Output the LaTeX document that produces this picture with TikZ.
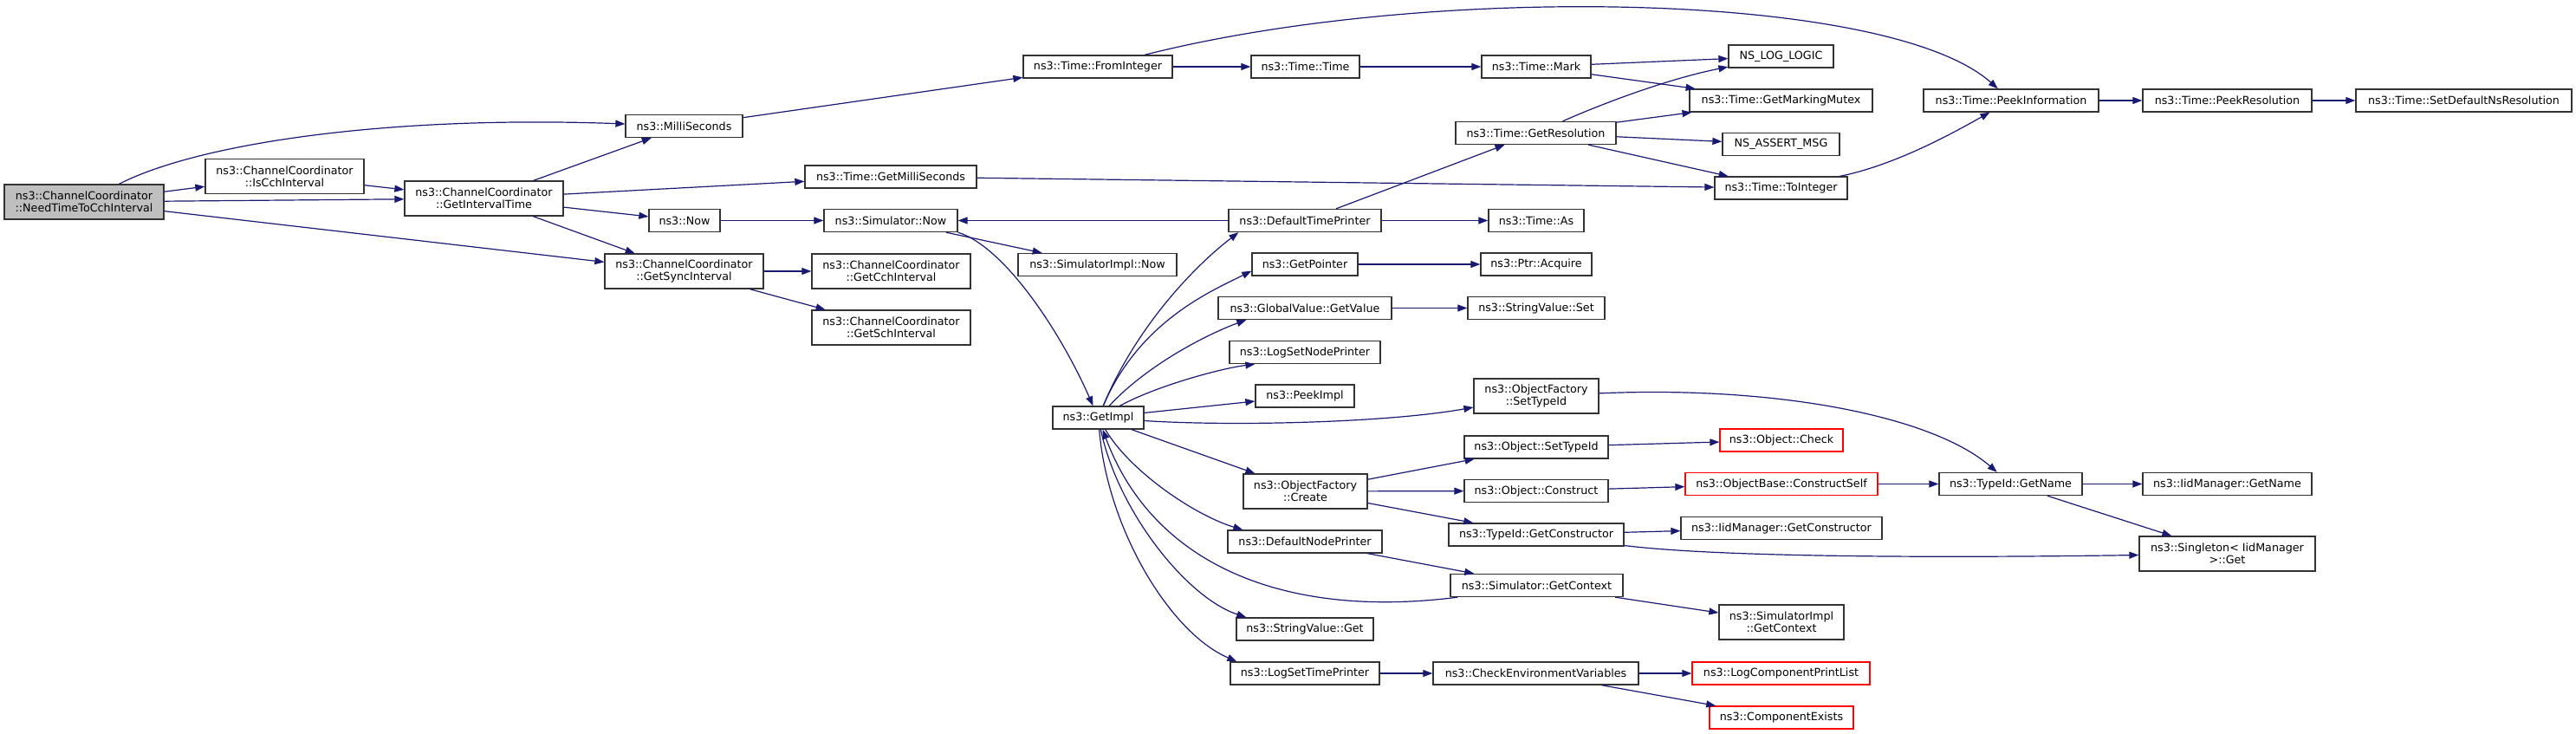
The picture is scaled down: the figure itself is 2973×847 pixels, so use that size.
\documentclass[tikz,border=0pt]{standalone}
\usepackage{fontspec}
\setmainfont{DejaVu Sans}
\usetikzlibrary{arrows.meta}
\definecolor{edgeblue}{HTML}{191970}
\definecolor{callgray}{HTML}{BFBFBF}
\definecolor{boxline}{HTML}{333333}
\begin{document}
\begin{tikzpicture}[x=1bp, y=-1bp, >={Triangle[length=11bp,width=8bp]},
  every node/.style={font=\fontsize{12.7bp}{14.3bp}\selectfont},
  fn/.style={draw=boxline,line width=1.3bp,fill=white,inner sep=0pt,minimum height=26bp,align=center},
  fn2/.style={fn,minimum height=40bp},
  hidden/.style={draw=red},
  call/.style={->,draw=edgeblue,line width=1.2bp}]
\useasboundingbox (0,0) rectangle (2973,847);
% caller and its direct callees
\node[fn2,fill=callgray,minimum width=184bp] (need) at (97,233) {ns3::ChannelCoordinator\\::NeedTimeToCchInterval};
\node[fn2,minimum width=183bp] (iscch) at (328.5,203.5) {ns3::ChannelCoordinator\\::IsCchInterval};
\node[fn2,minimum width=183bp] (getint) at (558.5,229) {ns3::ChannelCoordinator\\::GetIntervalTime};
\node[fn,minimum width=135bp] (milli) at (789.5,145.5) {ns3::MilliSeconds};
\node[fn,minimum width=82bp] (now) at (790,254.5) {ns3::Now};
\node[fn2,minimum width=183bp] (getsync) at (789.5,313) {ns3::ChannelCoordinator\\::GetSyncInterval};
\node[fn,minimum width=198bp] (getmilli) at (1028,204) {ns3::Time::GetMilliSeconds};
\node[fn,minimum width=154bp] (simnow) at (1028,254.5) {ns3::Simulator::Now};
\node[fn2,minimum width=183bp] (getcch) at (1028.5,313) {ns3::ChannelCoordinator\\::GetCchInterval};
\node[fn2,minimum width=183bp] (getsch) at (1028.5,378) {ns3::ChannelCoordinator\\::GetSchInterval};
% time
\node[fn,minimum width=172bp] (fromint) at (1267,77) {ns3::Time::FromInteger};
\node[fn,minimum width=183bp] (simimplnow) at (1266.5,305.5) {ns3::SimulatorImpl::Now};
\node[fn,minimum width=105bp] (getimpl) at (1267.5,482) {ns3::GetImpl};
\node[fn,minimum width=125bp] (ttime) at (1506.5,77) {ns3::Time::Time};
\node[fn,minimum width=126bp] (mark) at (1773,77) {ns3::Time::Mark};
\node[fn,minimum width=185bp] (getres) at (1772.5,153.5) {ns3::Time::GetResolution};
\node[fn,minimum width=121bp] (loglogic) at (2055.5,65) {NS\_LOG\_LOGIC};
\node[fn,minimum width=211bp] (mutex) at (2055.5,116) {ns3::Time::GetMarkingMutex};
\node[fn,minimum width=135bp] (assert) at (2055.5,166.5) {NS\_ASSERT\_MSG};
\node[fn,minimum width=153bp] (toint) at (2055.5,217) {ns3::Time::ToInteger};
\node[fn,minimum width=202bp] (peekinfo) at (2321,116) {ns3::Time::PeekInformation};
\node[fn,minimum width=195bp] (peekres) at (2570.5,116) {ns3::Time::PeekResolution};
\node[fn,minimum width=249bp] (setdef) at (2843.5,116) {ns3::Time::SetDefaultNsResolution};
% callees of GetImpl
\node[fn,minimum width=176bp] (deftime) at (1506,254.5) {ns3::DefaultTimePrinter};
\node[fn,minimum width=110bp] (timeas) at (1773,254.5) {ns3::Time::As};
\node[fn,minimum width=122bp] (getptr) at (1506,305) {ns3::GetPointer};
\node[fn,minimum width=128bp] (acquire) at (1773,305) {ns3::Ptr::Acquire};
\node[fn,minimum width=200bp] (getvalue) at (1506,355.5) {ns3::GlobalValue::GetValue};
\node[fn,minimum width=158bp] (strset) at (1773,355.5) {ns3::StringValue::Set};
\node[fn,minimum width=174bp] (lognode) at (1506,406.5) {ns3::LogSetNodePrinter};
\node[fn,minimum width=114bp] (peekimpl) at (1506,457) {ns3::PeekImpl};
\node[fn2,minimum width=144bp] (ofsettype) at (1773,457) {ns3::ObjectFactory\\::SetTypeId};
\node[fn2,minimum width=143bp] (ofcreate) at (1506.5,567) {ns3::ObjectFactory\\::Create};
\node[fn,minimum width=166bp] (objsettype) at (1773,516) {ns3::Object::SetTypeId};
\node[fn,minimum width=166bp] (objconstruct) at (1773,566.5) {ns3::Object::Construct};
\node[fn,minimum width=202bp] (tidctor) at (1773,617) {ns3::TypeId::GetConstructor};
\node[fn,minimum width=178bp] (defnode) at (1506,625) {ns3::DefaultNodePrinter};
\node[fn,minimum width=199bp] (simctx) at (1773.5,675.5) {ns3::Simulator::GetContext};
\node[fn,minimum width=158bp] (strget) at (1506,726) {ns3::StringValue::Get};
\node[fn,minimum width=172bp] (logtime) at (1506,777) {ns3::LogSetTimePrinter};
\node[fn,minimum width=237bp] (checkenv) at (1772.5,777) {ns3::CheckEnvironmentVariables};
% deepest calls
\node[fn,hidden,minimum width=142bp] (objcheck) at (2056,508) {ns3::Object::Check};
\node[fn,hidden,minimum width=222bp] (constructself) at (2056,558.5) {ns3::ObjectBase::ConstructSelf};
\node[fn,minimum width=232bp] (iidctor) at (2056,609.5) {ns3::IidManager::GetConstructor};
\node[fn2,minimum width=144bp] (simimplctx) at (2056,718) {ns3::SimulatorImpl\\::GetContext};
\node[fn,hidden,minimum width=205bp] (logprint) at (2055.5,777) {ns3::LogComponentPrintList};
\node[fn,hidden,minimum width=166bp] (compexists) at (2056,828) {ns3::ComponentExists};
\node[fn,minimum width=165bp] (tidname) at (2320.5,558.5) {ns3::TypeId::GetName};
\node[fn,minimum width=195bp] (iidname) at (2570.5,558.5) {ns3::IidManager::GetName};
\node[fn2,minimum width=203bp] (singleton) at (2570.5,639) {ns3::Singleton< IidManager\\>::Get};
% calls
\draw[call] (need) .. controls (230,165) and (450,133) .. (milli);
\draw[call] (need) -- (iscch);
\draw[call] (need) -- (getint);
\draw[call] (need) -- (getsync);
\draw[call] (iscch) -- (getint);
\draw[call] (getint) -- (milli);
\draw[call] (getint) -- (getmilli);
\draw[call] (getint) -- (now);
\draw[call] (getint) -- (getsync);
\draw[call] (milli) -- (fromint);
\draw[call] (fromint) -- (ttime);
\draw[call] (fromint) .. controls (1650,-20) and (2180,-10) .. (peekinfo);
\draw[call] (ttime) -- (mark);
\draw[call] (mark) -- (loglogic);
\draw[call] (mark) -- (mutex);
\draw[call] (getres) .. controls (1860,115) and (1930,90) .. (loglogic);
\draw[call] (getres) -- (mutex);
\draw[call] (getres) -- (assert);
\draw[call] (getres) -- (toint);
\draw[call] (toint) .. controls (2190,190) and (2260,150) .. (peekinfo);
\draw[call] (peekinfo) -- (peekres);
\draw[call] (peekres) -- (setdef);
\draw[call] (getmilli) -- (toint);
\draw[call] (now) -- (simnow);
\draw[call] (simnow) -- (simimplnow);
\draw[call] (simnow.south east) .. controls (1160,285) and (1225,385) .. (getimpl);
\draw[call] (getsync) -- (getcch);
\draw[call] (getsync) -- (getsch);
\draw[call] (deftime) -- (simnow);
\draw[call] (deftime) -- (getres);
\draw[call] (deftime) -- (timeas);
\draw[call] (getptr) -- (acquire);
\draw[call] (getvalue) -- (strset);
\draw[call] (getimpl) .. controls (1310,380) and (1375,310) .. ([xshift=12bp]deftime.south west);
\draw[call] (getimpl) .. controls (1315,370) and (1400,335) .. ([yshift=6bp]getptr.south west);
\draw[call] (getimpl) .. controls (1325,420) and (1395,385) .. ([xshift=33bp]getvalue.south west);
\draw[call] (getimpl) .. controls (1335,445) and (1410,425) .. ([xshift=30bp]lognode.south west);
\draw[call] (getimpl) -- (peekimpl);
\draw[call] (getimpl) .. controls (1420,492) and (1600,488) .. (ofsettype);
\draw[call] (getimpl) -- (ofcreate);
\draw[call] (getimpl) .. controls (1305,545) and (1380,595) .. ([xshift=18bp]defnode.north west);
\draw[call] (getimpl) .. controls (1290,590) and (1370,690) .. ([xshift=12bp]strget.north west);
\draw[call] (getimpl) .. controls (1278,610) and (1350,730) .. ([xshift=8bp]logtime.north west);
\draw[call] ([xshift=9bp]simctx.south west) .. controls (1480,715) and (1330,650) .. (getimpl);
\draw[call] (ofsettype) .. controls (2050,445) and (2230,480) .. (tidname);
\draw[call] (ofcreate) -- (objsettype);
\draw[call] (ofcreate) -- (objconstruct);
\draw[call] (ofcreate) -- (tidctor);
\draw[call] (objsettype) -- (objcheck);
\draw[call] (objconstruct) -- (constructself);
\draw[call] (constructself) -- (tidname);
\draw[call] (tidname) -- (iidname);
\draw[call] (tidname) -- (singleton);
\draw[call] (tidctor) -- (iidctor);
\draw[call] (tidctor) .. controls (2000,645) and (2300,643) .. (singleton);
\draw[call] (defnode) -- (simctx);
\draw[call] (simctx) -- (simimplctx);
\draw[call] (logtime) -- (checkenv);
\draw[call] (checkenv) -- (logprint);
\draw[call] (checkenv) -- (compexists);
\end{tikzpicture}
\end{document}
